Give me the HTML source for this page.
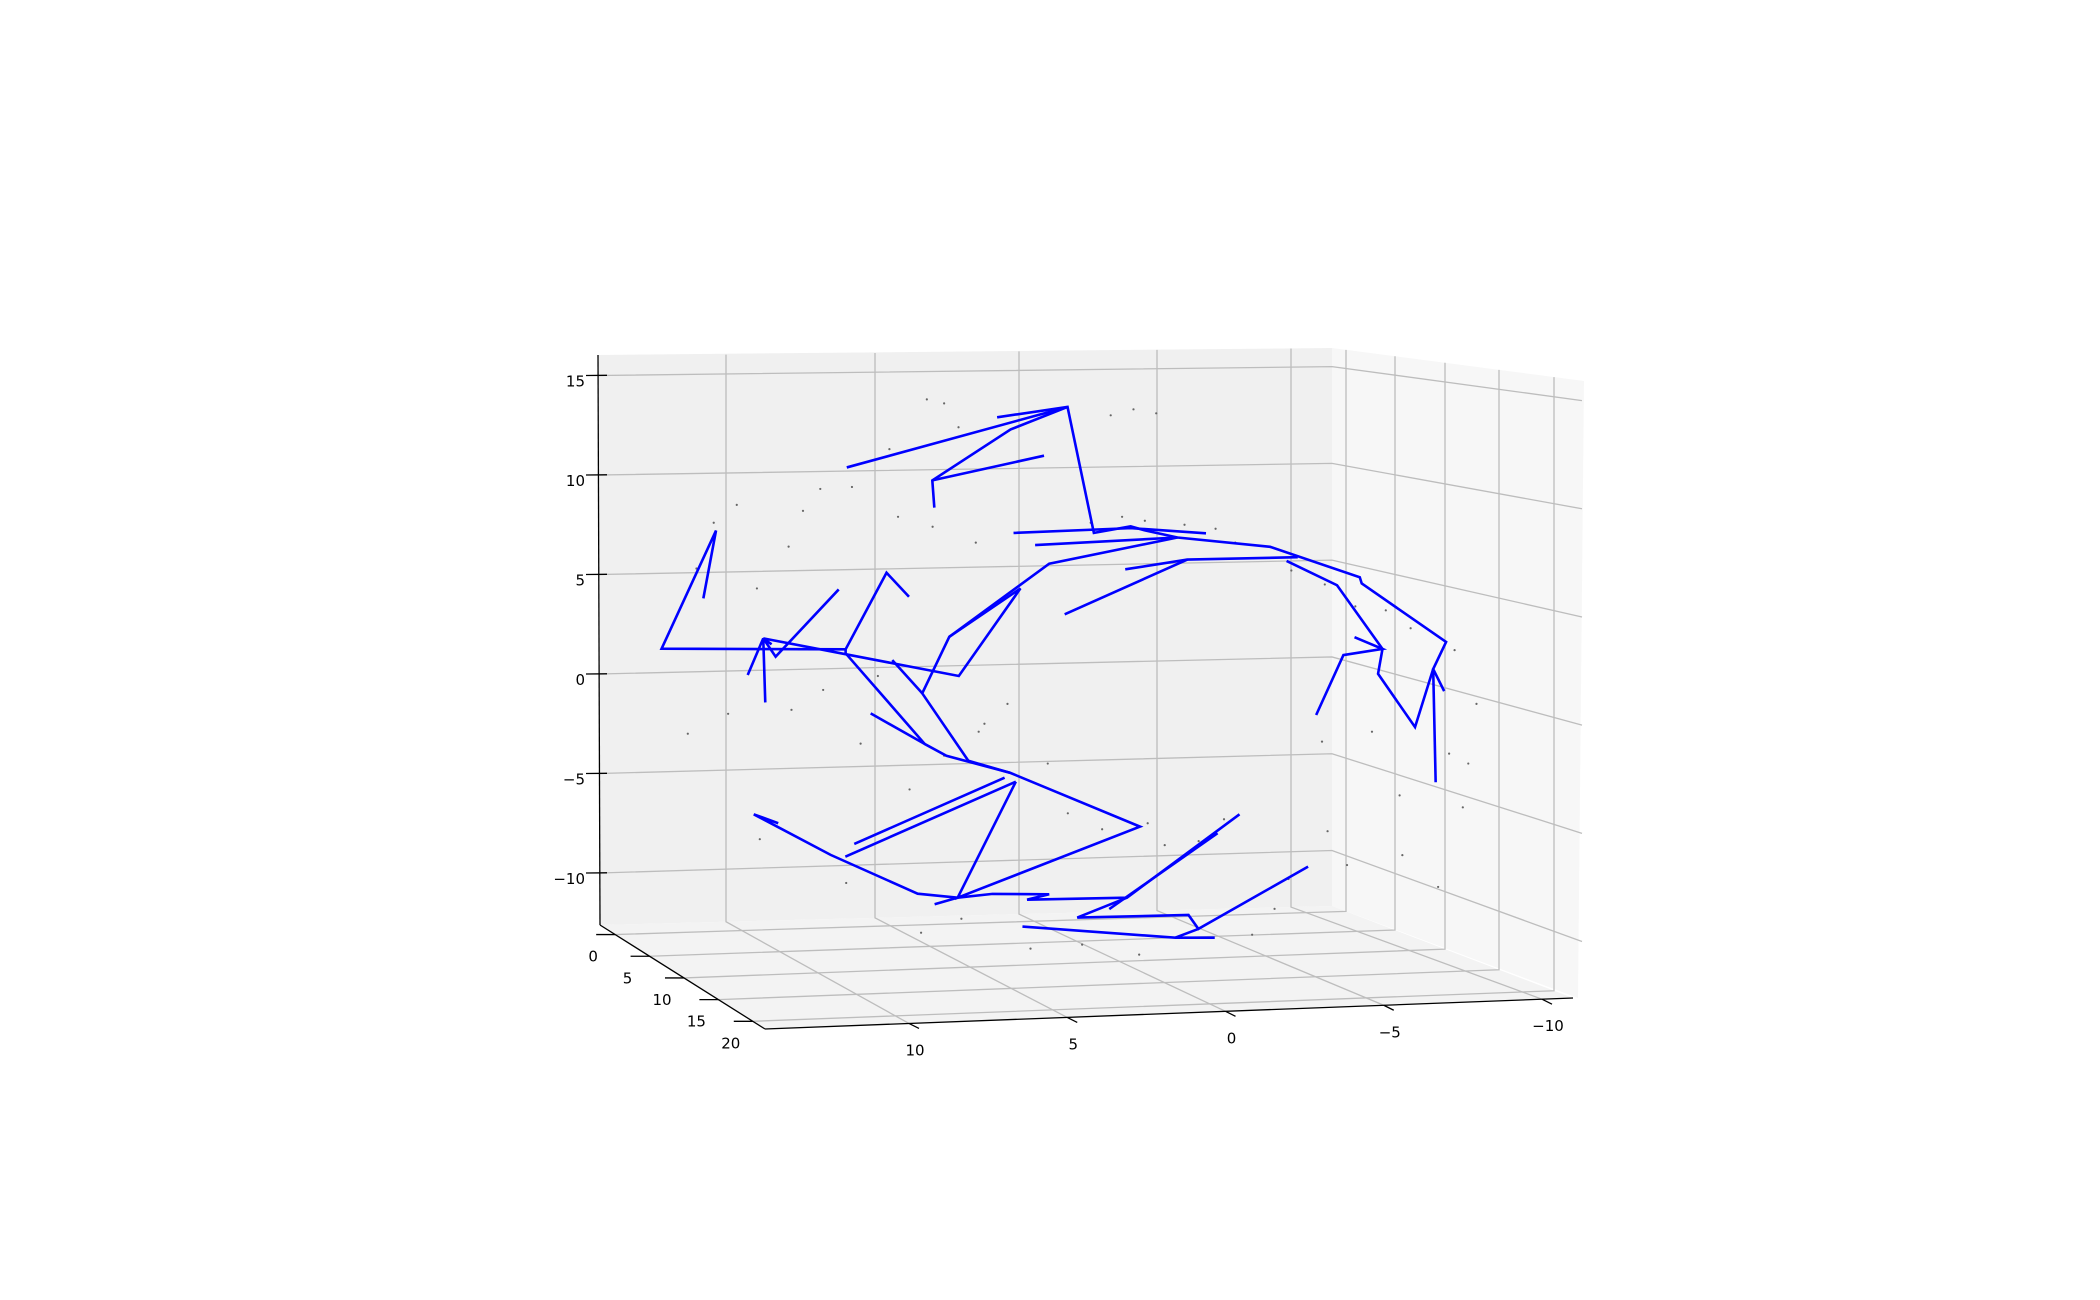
<!DOCTYPE html>
<html><head><meta charset="utf-8"><style>
html,body{margin:0;padding:0;background:#fff;}
svg{display:block;font-family:"DejaVu Sans","Liberation Sans",sans-serif;}
</style></head><body>
<svg id="chart" width="2100" height="1300" viewBox="0 0 2100 1300" xmlns="http://www.w3.org/2000/svg">
<g id="panes">
<polygon points="598,355 1332,348 1332,906 600,925" fill="#f0f0f0"/>
<polygon points="1332,348 1584,381 1578,998 1332,906" fill="#f7f7f7"/>
<polygon points="600,925 1332,906 1573,998 765,1029" fill="#f3f3f3"/>
</g>
<g id="grid" stroke="#bdbdbd" stroke-width="1.3" fill="none"></g>
<g id="axes" stroke="#000" stroke-width="1.3" fill="none">
<line x1="598" y1="355" x2="600" y2="925"/>
<line x1="600" y1="925" x2="765" y2="1029"/>
<line x1="765" y1="1029" x2="1573" y2="998"/>
</g>
<g id="ticks" stroke="#000" stroke-width="1.3"></g>
<g id="labels" font-size="15" fill="#000"></g>
<g id="dots" fill="#666"></g>
<g id="lines" stroke="#0000ff" stroke-width="2.6" fill="none" stroke-linejoin="miter"></g>
</svg>
<script>
const zTicks = [15, 10, 5, 0, -5, -10];
const zTickLabels = ["15", "10", "5", "0", "\u22125", "\u221210"];
const xTicks = [10, 5, 0, -5, -10];
const xTickLabels = ["10", "5", "0", "\u22125", "\u221210"];
const yTicks = [0, 5, 10, 15, 20];
const yTickLabels = ["0", "5", "10", "15", "20"];
const backGridX = [10, 5, 0, -5, -10];

// series polylines: [x, z] pairs
const seg1 = [[5.98,10.38],[-1.69,13.42],[-2.61,7.09],[-3.90,7.42],[-4.42,7.21],[-5.55,6.86],[-8.84,6.39],[-12.06,4.86],[-12.13,4.55],[-15.19,1.61],[-14.72,0.25],[-15.12,-0.86]];
const seg2 = [[-14.72,0.25],[-14.81,-5.44]];
const seg3 = [[0.76,12.90],[-1.69,13.42],[0.29,12.29],[3.01,9.73],[2.94,8.36]];
const seg4 = [[3.01,9.73],[-0.87,10.97]];
const seg5 = [[0.19,7.09],[-3.90,7.33],[-6.56,7.07]];
const seg6 = [[-0.56,6.48],[-5.55,6.86]];
const seg7 = [[2.42,1.87],[-1.05,5.54],[-5.55,6.86]];
const seg8 = [[-3.71,5.26],[-5.90,5.75],[-9.83,5.87]];
const seg9 = [[-1.59,3.00],[-5.90,5.75]];
const seg10 = [[-9.43,5.68],[-11.24,4.46],[-12.88,1.26],[-12.72,0.01],[-14.06,-2.67],[-14.72,0.25]];
const seg11 = [[-11.87,1.85],[-12.88,1.26],[-11.47,0.95],[-10.49,-2.06]];
const seg12 = [[10.96,3.80],[10.52,7.21],[12.41,1.27],[6.02,1.24]];
const seg13 = [[9.42,-0.05],[8.88,1.79],[8.81,-1.43]];
const seg14 = [[8.59,1.49],[8.88,1.79],[8.45,0.87],[6.26,4.25]];
const seg15 = [[8.88,1.79],[2.09,-0.10],[-0.05,4.30],[2.42,1.87],[3.36,-0.97],[1.76,-4.36]];
const seg16 = [[4.40,0.70],[3.36,-0.97]];
const seg17 = [[3.82,3.88],[4.60,5.09],[6.02,1.24],[6.02,1.04],[3.27,-3.52],[2.52,-4.11],[0.30,-4.97],[-4.23,-7.67],[2.13,-11.24],[0.11,-5.41]];
const seg18 = [[5.15,-1.98],[3.27,-3.52]];
const seg19 = [[1.76,-4.36],[0.30,-4.97]];
const seg20 = [[6.03,-9.18],[0.11,-5.41]];
const seg21 = [[5.72,-8.54],[0.50,-5.21]];
const seg22 = [[8.36,-7.50],[9.21,-7.05],[6.54,-9.09],[3.52,-11.04],[2.13,-11.24],[0.92,-11.05],[-1.05,-11.07],[-0.28,-11.34],[-3.77,-11.24],[-7.75,-7.05]];
const seg23 = [[2.93,-11.57],[2.13,-11.24]];
const seg24 = [[-3.15,-11.81],[-6.97,-8.00]];
const seg25 = [[-3.77,-11.24],[-2.03,-12.24],[-5.94,-12.11],[-6.29,-12.81],[-10.20,-9.68]];
const seg26 = [[-6.29,-12.81],[-5.47,-13.25],[-0.12,-12.69]];
const seg27 = [[-5.47,-13.25],[-6.87,-13.25]];
const segments = [seg1,seg2,seg3,seg4,seg5,seg6,seg7,seg8,seg9,seg10,seg11,seg12,seg13,seg14,seg15,seg16,seg17,seg18,seg19,seg20,seg21,seg22,seg23,seg24,seg25,seg26,seg27];

// scatter points [x, z]
const dotX = [3.2,2.6,2.1,4.5,-3.2,-4.0,-4.8,5.8,6.9,7.5,9.8,10.6,8.0,11.2,9.1,4.2,3.0,1.5,-2.5,-3.6,-4.4,-5.8,-6.9,-7.6,-9.6,-10.8,-11.9,-13.0,-13.9,-15.5,-16.3,-12.5,-10.7,-16.0,-13.5,-15.8,-10.9,-11.6,-13.6,-14.9,-15.3,-1.7,-2.9,-4.5,-5.1,-6.3,-7.2,0.4,1.2,2.3,-1.0,4.9,6.8,7.9,5.5,3.8,2.6,1.4,10.1,11.5,9.0,6.0,-0.4,-2.2,-4.2,3.4,2.0,-9.5,-9.0,-8.2];
const dotZ = [13.8,13.6,12.4,11.3,13.0,13.3,13.1,9.4,9.3,8.2,8.5,7.6,6.4,5.3,4.3,7.9,7.4,6.6,7.6,7.9,7.7,7.5,7.3,6.6,5.2,4.5,3.4,3.2,2.3,1.2,-1.5,-2.9,-3.4,-4.5,-6.1,-6.7,-7.9,-9.6,-9.1,-10.7,-4.0,-7.0,-7.8,-7.5,-8.6,-8.4,-7.3,-1.5,-2.5,-3.2,-4.5,-0.1,-0.8,-1.8,-3.5,-5.8,-4.1,-2.9,-2.0,-3.0,-8.3,-10.5,-13.8,-13.6,-14.1,-13.0,-12.3,-10.3,-11.8,-13.1];

// axis functions (screen projection of the view, with slight perspective on the far side)
function px(x){ return 1019 - 28.8 * x + (x < 0 ? -0.045 * x * x : 0); }
function pz(z){ return 674 - 19.9 * z; }

const NS = "http://www.w3.org/2000/svg";
function mk(tag, attrs, parent){
  const e = document.createElementNS(NS, tag);
  for (const k in attrs) e.setAttribute(k, attrs[k]);
  parent.appendChild(e);
  return e;
}
const grid = document.getElementById('grid');
const ticks = document.getElementById('ticks');
const labels = document.getElementById('labels');

zTicks.forEach((z, i) => {
  const y0 = pz(z);
  const dyBack = -8.9 - (15 - z) * 0.544;
  const dyRight = 34 + (15 - z) * 2.28;
  const g = mk('polyline', {points: `600,${y0} 1332,${y0 + dyBack} 1582,${y0 + dyBack + dyRight}`}, grid);
  
  
  const t = mk('line', {x1: 586, y1: y0, x2: 607, y2: y0 - 0.2}, ticks);
  
  
  const l = mk('text', {x: 585, y: y0 + 11, 'text-anchor': 'end'}, labels);
  l.textContent = zTickLabels[i];
  
  
});

backGridX.forEach((x, i) => {
  const bx = x === 10 ? 726 : 1019 - 28.8 * x - (x === -10 ? 16 : x === -5 ? 6 : 0);
  const topY = 356 - (bx - 600) * 8 / 732;
  const botY = 925 - (bx - 600) * 19 / 732;
  const fx = 909 + (10 - x) * (1542 - 909) / 20;
  const fy = 1029 - (fx - 765) * 31 / 808;
  const g = mk('polyline', {points: `${bx},${topY} ${bx},${botY} ${fx},${fy}`}, grid);
  
  
  const t = mk('line', {x1: fx, y1: fy, x2: fx + 10, y2: fy + 5}, ticks);
  
  
  const l = mk('text', {x: fx + 6, y: fy + 32, 'text-anchor': 'middle'}, labels);
  l.textContent = xTickLabels[i];
  
  
});

const rightWallX = [1346, 1395, 1445, 1499, 1554];
yTicks.forEach((y, i) => {
  const t0 = 0.092 + (y / 20) * (0.926 - 0.092);
  const lx = 600 + 165 * t0, ly = 925 + 104 * t0;
  const rx = rightWallX[i];
  const rBot = 906 + (rx - 1332) * 92 / 241;
  const rTop = 348 + (rx - 1332) * 33 / 252;
  const g = mk('polyline', {points: `${lx},${ly} ${rx},${rBot} ${rx},${rTop}`}, grid);
  
  
  const t = mk('line', {x1: lx - 19, y1: ly, x2: lx, y2: ly}, ticks);
  
  
  const l = mk('text', {x: lx - 22, y: ly + 27, 'text-anchor': 'middle'}, labels);
  l.textContent = yTickLabels[i];
  
  
});

const dots = document.getElementById('dots');
dotX.forEach((x, i) => {
  const c = mk('circle', {cx: px(x), cy: pz(dotZ[i]), r: 1.1}, dots);
  
  
});

const linesG = document.getElementById('lines');
segments.forEach((seg) => {
  const p = mk('polyline', {points: seg.map(d => px(d[0]) + ',' + pz(d[1])).join(' ')}, linesG);
  
  
});
</script>
</body></html>
